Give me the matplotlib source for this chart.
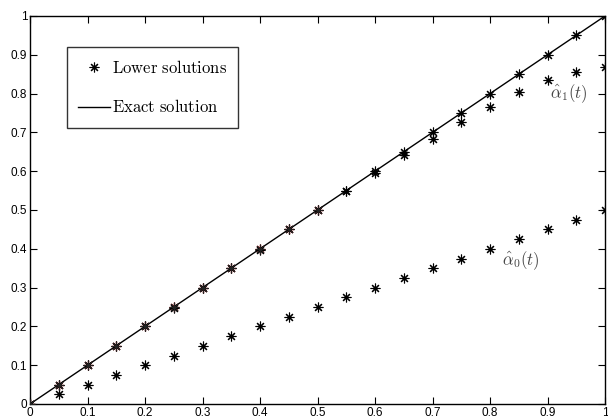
import numpy as np
import matplotlib
matplotlib.use("Agg")
import matplotlib.pyplot as plt
from matplotlib.lines import Line2D

plt.rcParams['mathtext.fontset'] = 'cm'

# time grid
t = [0.0, 0.05, 0.1, 0.15, 0.2, 0.25, 0.3, 0.35, 0.4, 0.45, 0.5,
     0.55, 0.6, 0.65, 0.7, 0.75, 0.8, 0.85, 0.9, 0.95, 1.0]

# lower solutions
alpha0 = [0.0, 0.025, 0.05, 0.075, 0.1, 0.125, 0.15, 0.175, 0.2, 0.225, 0.25,
          0.275, 0.3, 0.325, 0.35, 0.375, 0.4, 0.425, 0.45, 0.475, 0.5]
alpha1 = [0.0, 0.05, 0.1, 0.15, 0.2, 0.248, 0.3, 0.35, 0.397, 0.45, 0.5,
          0.549, 0.595, 0.643, 0.683, 0.727, 0.766, 0.803, 0.834, 0.856, 0.868]
alpha2 = [0.0, 0.05, 0.1, 0.15, 0.2, 0.25, 0.3, 0.35, 0.4, 0.45, 0.5,
          0.55, 0.6, 0.65, 0.7, 0.75, 0.8, 0.85, 0.9, 0.95, 1.0]

# exact solution
t_exact = [0.0, 1.0]
y_exact = [0.0, 1.0]

ticks = [0, 0.1, 0.2, 0.3, 0.4, 0.5, 0.6, 0.7, 0.8, 0.9, 1]
ticklabels = ['0', '0.1', '0.2', '0.3', '0.4', '0.5', '0.6', '0.7', '0.8', '0.9', '1']

fig = plt.figure(figsize=(6.08, 4.16), dpi=100)
ax = fig.add_axes([30/608, 12/416, 575/608, 388/416])

star = (8, 2, 0)
ms = 7
# early iterate, partly hidden under the later ones
ax.plot(t[:11], alpha2[:11], linestyle='none', marker=star, ms=ms, mew=0.9,
        color='#8b1010', zorder=2)
ax.plot(t_exact, y_exact, color='black', lw=1.0, zorder=3)
ax.plot(t, alpha0, linestyle='none', marker=star, ms=ms, mew=0.8,
        color='black', zorder=4)
ax.plot(t, alpha1, linestyle='none', marker=star, ms=ms, mew=0.8,
        color='black', zorder=4)
ax.plot(t[:11], alpha2[:11], linestyle='none', marker=star, ms=ms, mew=0.6,
        color='#222222', zorder=4)
ax.plot(t[11:], alpha2[11:], linestyle='none', marker=star, ms=ms, mew=0.8,
        color='black', zorder=4)

ax.text(0.905, 0.80, r'$\hat{\alpha}_1(t)$', fontsize=12, color='#444444',
        ha='left', va='center')
ax.text(0.82, 0.37, r'$\hat{\alpha}_0(t)$', fontsize=12, color='#444444',
        ha='left', va='center')

ax.set_xlim(0, 1)
ax.set_ylim(0, 1)
ax.set_xticks(ticks)
ax.set_xticklabels(ticklabels)
ax.set_yticks(ticks)
ax.set_yticklabels(ticklabels)
ax.tick_params(direction='in', length=5, width=0.8, top=True, right=True,
               labelsize=8.5, pad=2)
for lab in ax.get_xticklabels() + ax.get_yticklabels():
    lab.set_fontfamily('Liberation Sans')
for s in ax.spines.values():
    s.set_linewidth(1.0)

handles = [Line2D([], [], linestyle='none', marker=star, ms=ms, mew=0.8, color='black'),
           Line2D([], [], color='black', lw=1.0)]
labels = [r'$\mathrm{Lower\ solutions}$', r'$\mathrm{Exact\ solution}$']
leg = ax.legend(handles, labels, loc='upper left', bbox_to_anchor=(0.064, 0.92),
                fontsize=12, frameon=True, fancybox=False, edgecolor='black',
                handlelength=1.9, handletextpad=0.1, labelspacing=1.3,
                borderpad=0.7, borderaxespad=0)
leg.get_frame().set_linewidth(1.0)

fig.savefig('out.png', dpi=100)
